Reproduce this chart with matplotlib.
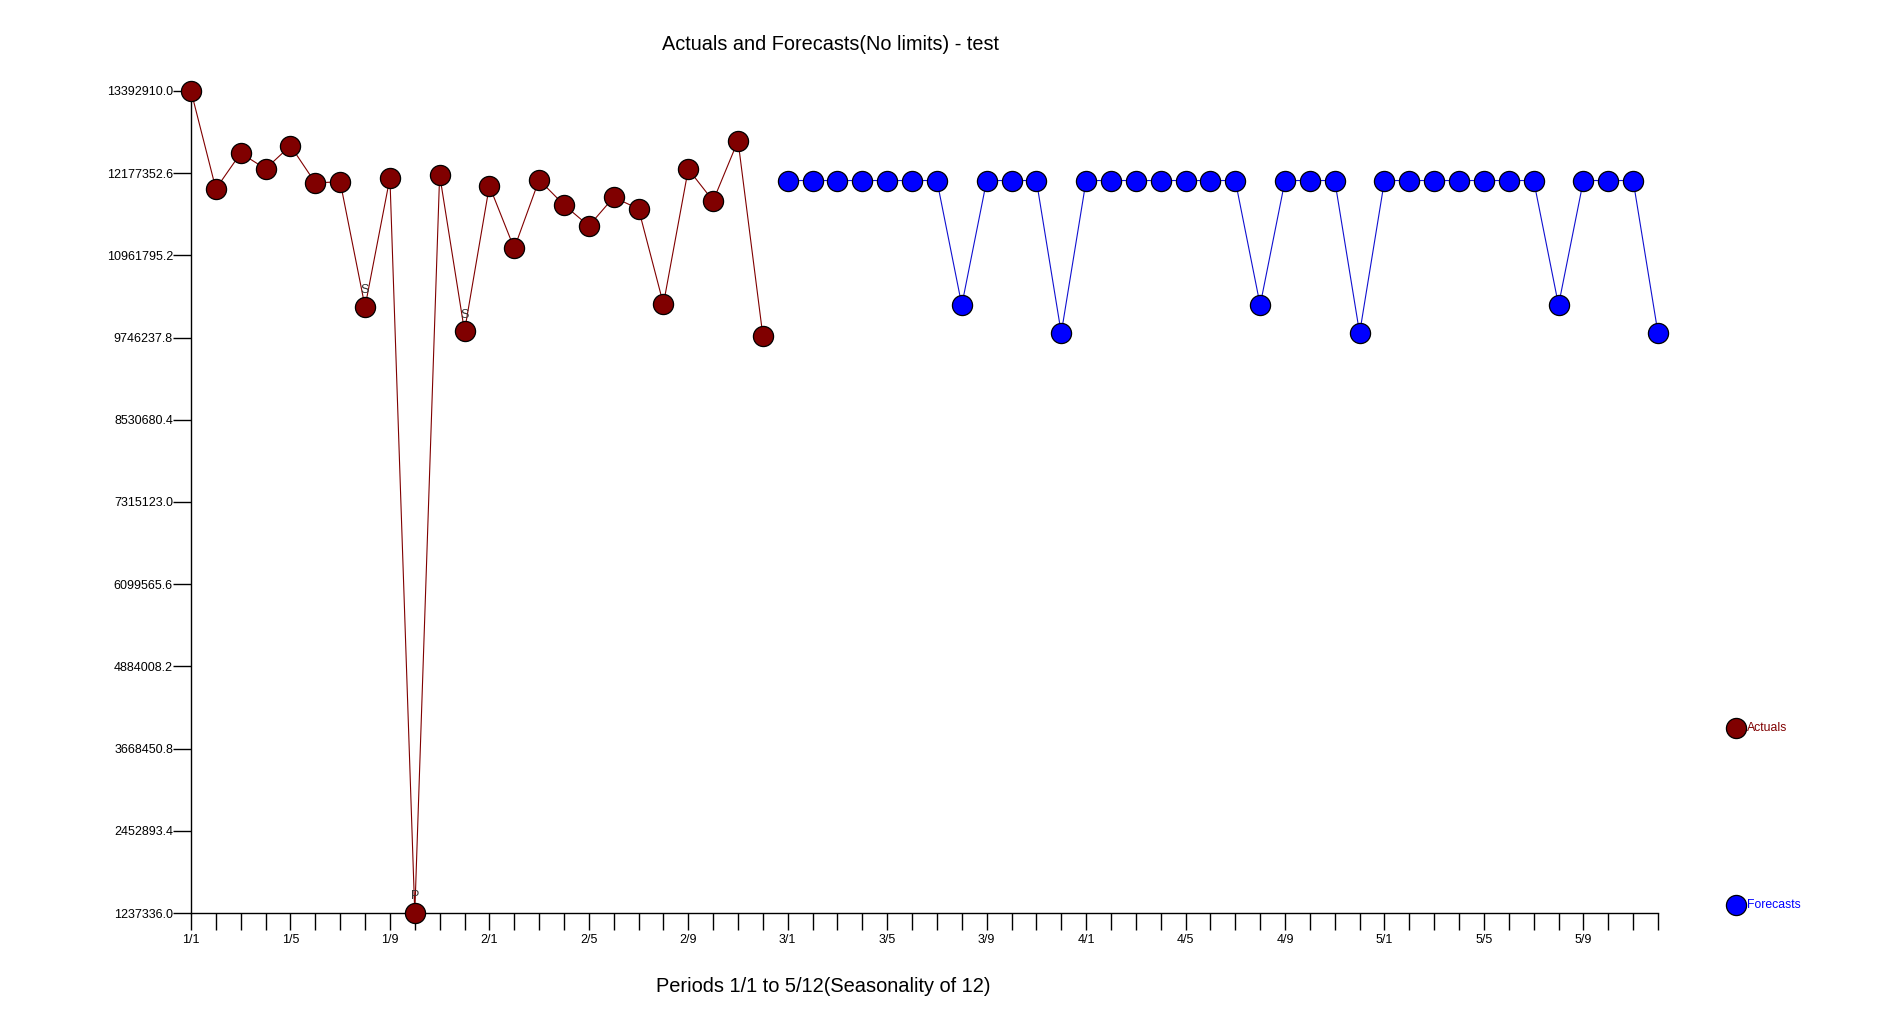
import numpy as np
import matplotlib.pyplot as plt
from matplotlib.lines import Line2D

plt.rcParams['font.family'] = ['Liberation Sans', 'DejaVu Sans']

# periods 1..60 (5 seasons of 12)
actuals = [13392910, 11946097, 12473828, 12242575, 12583525, 12035041,
           12049865, 10201325, 12109160, 1237336, 12153632, 9841104,
           11990570, 11065558, 12079513, 11708915, 11397613, 11821577,
           11649619, 10241349, 12236646, 11768211, 12657645, 9771431]
flags = ["", "", "", "", "", "", "", "S", "", "P", "", "S",
         "", "", "", "", "", "", "", "", "", "", "", ""]
forecasts = [12069136, 12069136, 12069136, 12069136, 12069136, 12069136,
             12069136, 10226526, 12069136, 12069136, 12069136, 9811456,
             12069136, 12069136, 12069136, 12069136, 12069136, 12069136,
             12069136, 10226526, 12069136, 12069136, 12069136, 9811456,
             12069136, 12069136, 12069136, 12069136, 12069136, 12069136,
             12069136, 10226526, 12069136, 12069136, 12069136, 9811456]
y_min, y_max = 1237336.0, 13392910.0
season = 12

n_act = len(actuals)
n_all = n_act + len(forecasts)
x_act = np.arange(1, n_act + 1)
x_fc = np.arange(n_act + 1, n_all + 1)

fig = plt.figure(figsize=(18.94, 10.30), dpi=100)
ax = fig.add_axes([191 / 1894, 1 - 913 / 1030, (1658 - 191) / 1894, (913 - 91) / 1030])

red = "#800000"
blue = "#0000ff"
ax.plot(x_act, actuals, color=red, lw=0.8, marker="o", ms=14.5,
        mfc=red, mec="black", mew=0.9, clip_on=False, zorder=3)
ax.plot(x_fc, forecasts, color="#1010d0", lw=0.8, marker="o", ms=14.5,
        mfc=blue, mec="black", mew=0.9, clip_on=False, zorder=3)

for x, v, f in zip(x_act, actuals, flags):
    if f:
        ax.annotate(f, (x, v), xytext=(0, 12), textcoords="offset points",
                    ha="center", va="center", fontsize=9, color="#333333", zorder=4)

ax.set_xlim(1, n_all)
ax.set_ylim(y_min, y_max)
for s in ["top", "right"]:
    ax.spines[s].set_visible(False)
ax.spines["left"].set_linewidth(1)
ax.spines["bottom"].set_linewidth(1)

yt = np.linspace(y_min, y_max, 11)
ax.set_yticks(yt)
ax.set_yticklabels([f"{v:.1f}" for v in yt])
ax.tick_params(axis="y", direction="out", length=13, width=1, pad=0, labelsize=9)

xt = np.arange(1, n_all + 1)
xl = []
for p in xt:
    yr = (p - 1) // season + 1
    m = (p - 1) % season + 1
    xl.append(f"{yr}/{m}" if m in (1, 5, 9) else "")
ax.set_xticks(xt)
ax.set_xticklabels(xl)
ax.tick_params(axis="x", direction="out", length=12, width=1, pad=3, labelsize=9)

fig.text(831 / 1894, 1 - 44 / 1030, "Actuals and Forecasts(No limits) - test",
         ha="center", va="center", fontsize=14.3)
fig.text(823 / 1894, 1 - 987 / 1030, "Periods 1/1 to 5/12(Seasonality of 12)",
         ha="center", va="center", fontsize=14.4)

# legend
for yy, col, lab in [(728, red, "Actuals"), (905, blue, "Forecasts")]:
    fig.add_artist(Line2D([1736 / 1894], [1 - yy / 1030], marker="o", ms=14.5,
                          mfc=col, mec="black", mew=0.9, ls="none",
                          transform=fig.transFigure))
    fig.text(1747 / 1894, 1 - yy / 1030, lab, color=col, fontsize=8.8,
             ha="left", va="center")

fig.savefig("out.png", dpi=100)
